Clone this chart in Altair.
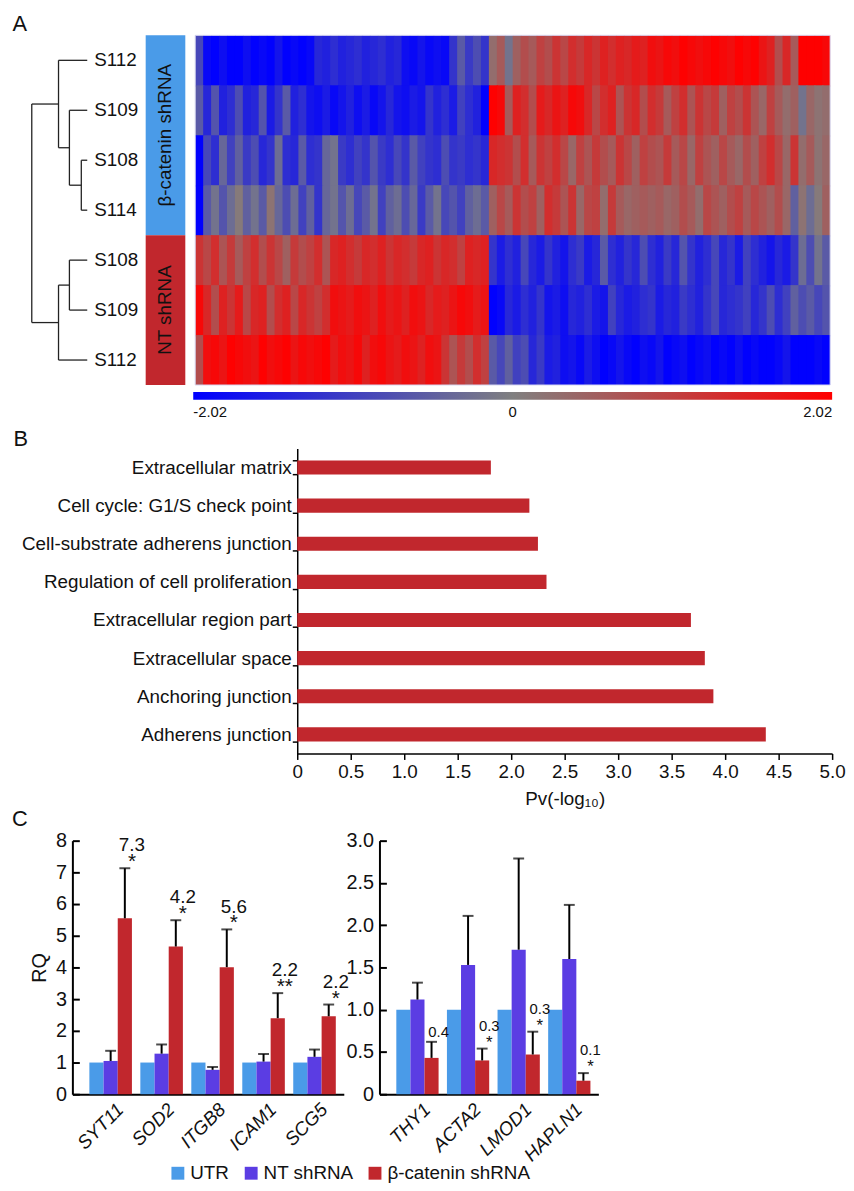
import altair as alt
import pandas as pd

W, H = 846, 1175
FONT = "Liberation Sans"
INK = "#111111"

# ---------------- Panel A : clustered heatmap ----------------
sample_labels = ["S112", "S109", "S108", "S114", "S108", "S109", "S112"]
bcat_S112 = [-0.9,-1.9,-2.0,-1.8,-2.0,-2.0,-1.8,-2.0,-1.9,-2.0,-1.7,-2.0,-1.9,-2.0,-1.9,-1.4,-1.5,-1.3,-1.5,-1.4,-1.3,-1.5,-1.4,-1.3,-1.5,-1.4,-1.8,-1.9,-1.7,-1.9,-1.8,-1.9,-1.2,-0.6,-1.1,-0.8,-1.2,
             0.3,0.6,-0.2,0.5,0.8,0.6,1.0,0.8,1.2,0.9,1.3,1.1,1.4,1.2,1.5,1.3,1.5,1.4,1.6,1.5,1.8,1.7,1.9,1.8,2.0,1.9,1.8,1.9,2.0,1.9,1.8,2.0,1.9,2.0,1.7,1.5,0.8,1.4,0.6,2.0,2.0,2.0,1.9]
bcat_S109 = [-0.6,-1.4,-0.7,-1.5,-1.3,-0.8,-1.5,-1.4,-0.7,-1.6,-1.2,-0.6,-1.5,-1.3,-1.7,-1.8,-1.6,-1.9,-1.7,-1.5,-1.8,-1.6,-1.9,-1.7,-1.4,-1.7,-1.8,-1.6,-1.7,-1.2,-1.5,-1.3,-1.6,-1.0,-1.3,-1.5,-2.0,
             2.0,1.9,0.6,1.5,1.3,0.8,1.6,1.4,1.7,1.5,1.9,1.8,1.4,0.9,1.3,1.5,0.7,1.2,1.4,0.8,1.3,1.1,0.6,1.0,1.3,0.7,1.2,0.9,1.1,0.5,1.0,0.8,1.2,0.7,0.4,1.0,0.6,0.3,0.5,-0.2,0.4,0.2,0.3]
bcat_S108 = [-2.0,-0.9,-1.3,-0.4,-1.0,-0.5,-1.1,-0.8,-1.4,-1.2,-0.3,-1.3,-1.4,-0.6,-1.3,-1.2,-0.4,-0.2,-1.1,-1.3,-1.0,-1.2,-0.7,-1.1,-1.3,-0.9,-1.2,-0.6,-1.0,-1.2,-1.3,-0.8,-1.2,-1.1,-1.3,-1.2,-1.4,
             1.4,1.3,1.2,0.8,1.3,0.6,1.2,1.0,1.3,0.9,0.4,1.0,0.7,1.1,0.8,0.6,1.2,0.9,0.5,1.0,0.8,0.7,1.1,0.6,0.9,0.4,1.0,0.7,0.5,0.9,0.6,0.4,0.8,0.5,1.0,1.3,0.9,0.4,1.2,0.3,0.6,0.2,0.4]
bcat_S114 = [-2.0,-0.6,-0.2,-0.7,-0.3,0.1,-0.5,-0.2,-0.6,0.2,-0.4,-0.8,-0.3,-1.0,-0.5,-1.2,-0.4,-0.2,-0.7,-0.3,-0.9,-0.6,-0.2,-1.0,-0.5,-0.3,-0.8,-0.4,-1.1,-0.6,-0.2,-0.9,-0.7,-1.0,-0.5,-0.3,-0.6,
             0.5,0.9,0.6,1.2,0.8,1.0,0.5,1.3,1.1,0.7,1.2,0.4,0.9,1.0,0.3,1.1,0.6,0.4,0.5,0.6,0.5,0.6,0.4,0.5,0.8,0.6,0.3,0.9,0.7,0.5,0.8,1.0,0.6,0.9,0.7,0.5,0.8,0.4,-0.5,0.2,-0.3,0.1,0.5]
nt_S108 = [1.2,0.9,1.3,0.7,1.1,0.6,1.0,1.3,0.8,1.2,0.9,0.5,1.1,0.8,1.0,1.3,0.7,1.4,1.5,1.3,1.1,1.4,1.3,1.5,1.2,1.4,1.3,1.1,1.4,1.5,1.2,1.4,1.3,1.0,1.5,1.4,1.5,
           -1.2,-1.6,-1.3,-1.5,-0.9,-1.4,-1.6,-1.2,-1.5,-1.7,-1.3,-1.1,-1.6,-1.4,-0.6,-1.3,-1.5,-1.2,-1.4,-0.8,-1.3,-1.5,-1.1,-1.4,-0.7,-1.2,-1.5,-1.3,-0.9,-1.4,-1.2,-1.6,-1.0,-1.3,-1.5,-1.7,-1.4,-1.6,-1.2,-0.3,-0.8,-0.2,-0.6]
nt_S109 = [1.9,1.4,0.8,1.5,1.2,1.6,0.9,1.4,1.5,0.8,1.3,1.5,0.9,1.4,1.2,1.0,1.3,1.8,1.7,1.6,1.8,1.7,1.5,1.8,1.6,1.7,1.5,1.8,1.7,1.4,1.6,1.5,1.7,1.9,1.8,1.6,1.7,
           -2.0,-1.9,-1.4,-1.6,-1.3,-1.5,-1.2,-1.7,-1.6,-1.8,-1.4,-1.5,-1.3,-1.6,-1.7,-1.0,-1.4,-1.6,-1.5,-1.3,-1.2,-1.6,-1.4,-1.5,-1.1,-1.3,-1.5,-1.2,-0.9,-1.4,-1.3,-1.2,-1.0,-1.4,-1.2,-0.8,-1.3,-1.0,-0.5,-0.8,-0.6,-0.9,-0.7]
nt_S112 = [0.8,1.8,1.9,1.7,2.0,1.9,1.8,1.7,2.0,1.8,1.9,2.0,1.7,1.9,1.8,1.9,2.0,1.6,1.8,1.7,1.9,1.5,1.8,1.9,1.7,1.6,1.8,1.7,1.5,1.8,1.7,1.2,0.7,1.1,0.8,1.3,1.0,
           -0.6,-0.9,-0.5,-1.0,-0.8,-1.4,-1.1,-1.6,-1.5,-1.8,-1.7,-1.9,-1.6,-1.8,-2.0,-1.9,-1.7,-1.9,-2.0,-1.8,-1.9,-1.7,-2.0,-1.9,-1.8,-2.0,-1.9,-1.8,-2.0,-1.9,-2.0,-1.8,-2.0,-1.9,-2.0,-2.0,-1.9,-1.7,-2.0,-2.0,-2.0,-1.9,-2.0]
heat_rows = [bcat_S112, bcat_S109, bcat_S108, bcat_S114, nt_S108, nt_S109, nt_S112]
heat_limit = 2.02
heat_ticks = [-2.02, 0, 2.02]

group_names = ["β-catenin shRNA", "NT shRNA"]
group_sizes = [4, 3]
group_colors = ["#4a9be8", "#c1272d"]

# dendrogram merges (node a, node b, merge height); leaves are rows 0..6, merge k creates node 7+k
dendro_merges = [(2, 3, 6), (1, 7, 18), (0, 8, 29), (4, 5, 18), (10, 6, 29), (9, 11, 56)]

# ---------------- Panel B : GO enrichment ----------------
go_terms = ["Extracellular matrix", "Cell cycle: G1/S check point", "Cell-substrate adherens junction",
            "Regulation of cell proliferation", "Extracellular region part", "Extracellular space",
            "Anchoring junction", "Adherens junction"]
go_pv = [1.81, 2.17, 2.25, 2.33, 3.68, 3.81, 3.89, 4.38]
pv_ticks = [0, 0.5, 1.0, 1.5, 2.0, 2.5, 3.0, 3.5, 4.0, 4.5, 5.0]

# ---------------- Panel C : qPCR ----------------
groups = ["UTR", "NT shRNA", "β-catenin shRNA"]
group_bar_colors = ["#4a9be8", "#5b3de3", "#c1272d"]
genes_up = ["SYT11", "SOD2", "ITGB8", "ICAM1", "SCG5"]
up_utr = [1, 1, 1, 1, 1]
up_nt = [1.05, 1.28, 0.77, 1.03, 1.18]
up_nt_err = [1.37, 1.57, 0.86, 1.27, 1.41]
up_bc = [5.55, 4.66, 4.01, 2.40, 2.46]
up_bc_err = [7.13, 5.49, 5.20, 3.19, 2.83]
up_fold = ["7.3", "4.2", "5.6", "2.2", "2.2"]
up_sig = ["*", "*", "*", "**", "*"]
up_ticks = [0, 1, 2, 3, 4, 5, 6, 7, 8]

genes_dn = ["THY1", "ACTA2", "LMOD1", "HAPLN1"]
dn_utr = [1, 1, 1, 1]
dn_nt = [1.12, 1.53, 1.71, 1.60]
dn_nt_err = [1.32, 2.11, 2.79, 2.24]
dn_bc = [0.43, 0.40, 0.47, 0.16]
dn_bc_err = [0.62, 0.54, 0.74, 0.25]
dn_fold = ["0.4", "0.3", "0.3", "0.1"]
dn_sig = ["", "*", "*", "*"]
dn_ticks = [0, 0.5, 1.0, 1.5, 2.0, 2.5, 3.0]

# ================= build tables =================
nrow = len(heat_rows)
ncol = max(len(r) for r in heat_rows)
heat_recs = []
for i, row in enumerate(heat_rows):
    for j, v in enumerate(row):
        heat_recs.append({"r0": i, "r1": min(i + 1.03, nrow), "c0": j, "c1": min(j + 1.15, ncol), "v": v})
heat_df = pd.DataFrame(heat_recs)
border_df = pd.DataFrame([{"c0": 0, "c1": ncol, "r0": 0, "r1": nrow}])

node_y = {i: i + 0.5 for i in range(nrow)}
node_h = {i: 0 for i in range(nrow)}
segs = []
for k, (a, b, h) in enumerate(dendro_merges):
    n = nrow + k
    node_y[n] = (node_y[a] + node_y[b]) / 2
    node_h[n] = h
    segs.append({"h0": h, "h1": h, "y0": node_y[a], "y1": node_y[b]})
    for c in (a, b):
        segs.append({"h0": node_h[c], "h1": h, "y0": node_y[c], "y1": node_y[c]})
seg_df = pd.DataFrame(segs)
max_h = max(m[2] for m in dendro_merges)
leaf_df = pd.DataFrame({"label": sample_labels, "y": [i + 0.5 for i in range(nrow)], "h": [0] * nrow})

g_recs, start = [], 0
for name, size in zip(group_names, group_sizes):
    g_recs.append({"group": name, "g0": start, "g1": start + size, "gm": start + size / 2,
                   "x0": 0, "x1": 1, "xm": 0.5})
    start += size
grp_df = pd.DataFrame(g_recs)

go_df = pd.DataFrame({"term": go_terms, "pv": go_pv})


def qpcr_table(genes, utr, nt, nt_err, bc, bc_err, fold, sig):
    recs = []
    for i, g in enumerate(genes):
        recs.append({"gene": g, "group": groups[0], "value": utr[i], "err": None, "fold": "", "sig": ""})
        recs.append({"gene": g, "group": groups[1], "value": nt[i], "err": nt_err[i], "fold": "", "sig": ""})
        recs.append({"gene": g, "group": groups[2], "value": bc[i], "err": bc_err[i], "fold": fold[i], "sig": sig[i]})
    return pd.DataFrame(recs)


up_df = qpcr_table(genes_up, up_utr, up_nt, up_nt_err, up_bc, up_bc_err, up_fold, up_sig)
dn_df = qpcr_table(genes_dn, dn_utr, dn_nt, dn_nt_err, dn_bc, dn_bc_err, dn_fold, dn_sig)

# ================= scales =================
rows_y = alt.Scale(domain=[0, nrow], range=[22, 375], nice=False, zero=False)
heat_x = alt.Scale(domain=[0, ncol], range=[189, 830], nice=False, zero=False)
dendro_x = alt.Scale(domain=[0, max_h], range=[80, 24], nice=False, zero=False)
grp_x = alt.Scale(domain=[0, 1], range=[139, 179], nice=False, zero=False)
heat_color = alt.Scale(domain=[-heat_limit, 0, heat_limit], range=["#0000ff", "#808080", "#ff0000"], interpolate="rgb")

# ================= Panel A layers =================
heat = alt.Chart(heat_df).mark_rect(strokeWidth=0).encode(
    x=alt.X("c0:Q", scale=heat_x, axis=None), x2="c1:Q",
    y=alt.Y("r0:Q", scale=rows_y, axis=None), y2="r1:Q",
    color=alt.Color("v:Q", scale=heat_color, legend=alt.Legend(
        orient="none", legendX=187, legendY=382, direction="horizontal", title=None,
        gradientLength=645, gradientThickness=8, gradientStrokeWidth=0, values=heat_ticks,
        labelExpr="datum.value == 0 ? '0' : (datum.value < 0 ? '-' : '') + format(abs(datum.value), '.2f')",
        labelFontSize=15, labelColor=INK, labelOffset=5, padding=0)),
)
border = alt.Chart(border_df).mark_rect(fillOpacity=0, stroke="#d6d6ef", strokeWidth=1).encode(
    x=alt.X("c0:Q", scale=heat_x, axis=None), x2="c1:Q",
    y=alt.Y("r0:Q", scale=rows_y, axis=None), y2="r1:Q",
)
dendro = alt.Chart(seg_df).mark_rule(color="#222222", strokeWidth=1.3).encode(
    x=alt.X("h0:Q", scale=dendro_x, axis=None), x2="h1:Q",
    y=alt.Y("y0:Q", scale=rows_y, axis=None), y2="y1:Q",
)
leaves = alt.Chart(leaf_df).mark_text(align="left", baseline="middle", dx=7, fontSize=19, font=FONT, color=INK).encode(
    x=alt.X("h:Q", scale=dendro_x, axis=None),
    y=alt.Y("y:Q", scale=rows_y, axis=None),
    text="label:N",
)
grp_bar = alt.Chart(grp_df).mark_rect().encode(
    x=alt.X("x0:Q", scale=grp_x, axis=None), x2="x1:Q",
    y=alt.Y("g0:Q", scale=rows_y, axis=None), y2="g1:Q",
    color=alt.Color("group:N", scale=alt.Scale(domain=group_names, range=group_colors), legend=None),
)
grp_txt = alt.Chart(grp_df).mark_text(angle=270, fontSize=19, font=FONT, color=INK, baseline="middle", align="center").encode(
    x=alt.X("xm:Q", scale=grp_x, axis=None),
    y=alt.Y("gm:Q", scale=rows_y, axis=None),
    text="group:N",
)

# ================= Panel B layers =================
go_y = alt.Scale(domain=go_terms, range=[439, 747], paddingInner=0.63, paddingOuter=0.315)
go_x = alt.Scale(domain=[0, 5], range=[292, 832], nice=False, zero=True)
go_bars = alt.Chart(go_df).mark_bar(color="#c1272d").encode(
    y=alt.Y("term:N", scale=go_y, sort=go_terms, title=None, axis=alt.Axis(
        orient="left", offset=-292, tickBand="extent", tickSize=5, tickWidth=1.5, tickColor="black",
        domainColor="black", domainWidth=1.5, labelFontSize=19, labelColor=INK, labelPadding=1,
        labelLimit=400, labelOverlap=False, grid=False)),
    x=alt.X("pv:Q", scale=go_x, axis=alt.Axis(
        orient="bottom", offset=747 - H, values=pv_ticks,
        labelExpr="datum.value == 0 ? '0' : format(datum.value, '.1f')",
        tickSize=6, tickWidth=1.5, tickColor="black", domainColor="black", domainWidth=1.5,
        labelFontSize=19, labelColor=INK, labelPadding=3, labelOverlap=False, labelFlush=False,
        title="Pv(-log₁₀)", titleFontSize=19, titleFontWeight="normal", titleColor=INK, titlePadding=8,
        grid=False)),
)

# ================= Panel C layers =================
off_sc = alt.Scale(domain=groups, paddingInner=0, paddingOuter=0)
bar_color = alt.Scale(domain=groups, range=group_bar_colors)


def qpcr_layers(df, genes, ymax, yrange_top, xrange, y_ticks, label_expr, y_off, num_size, title, legend):
    gx = alt.Scale(domain=genes, range=xrange, paddingInner=0.165, paddingOuter=0.245, align=0.68)
    gy = alt.Scale(domain=[0, ymax], range=[1091, yrange_top], nice=False, zero=True)
    xa = alt.Axis(orient="bottom", offset=1091 - H, title=None, ticks=False, domainColor="black", domainWidth=2,
                  labelAngle=-45, labelAlign="right", labelBaseline="middle", labelFontSize=19,
                  labelFontStyle="italic", labelColor=INK, labelPadding=12, labelOffset=10, labelOverlap=False,
                  grid=False)
    ya = alt.Axis(orient="left", offset=-y_off, values=y_ticks, labelExpr=label_expr, ticks=False,
                  domainColor="black", domainWidth=2, labelFontSize=20, labelColor=INK, labelPadding=6,
                  labelOverlap=False, grid=False, title=title, titleFontSize=20, titleFontWeight="normal",
                  titleColor=INK, titlePadding=6)
    ytick_axis = alt.Axis(orient="left", offset=-(y_off + 7), values=y_ticks, labels=False, domain=False,
                          ticks=True, tickSize=7, tickWidth=2, tickColor="black", title=None, grid=False)
    leg = None
    if legend:
        leg = alt.Legend(orient="none", legendX=162, legendY=1161, direction="horizontal", columns=3,
                         title=None, symbolType="square", symbolSize=169, symbolStrokeWidth=0,
                         labelFontSize=19, labelColor=INK, labelOffset=3, columnPadding=12,
                         labelLimit=300, padding=0)
    bars = alt.Chart(df).mark_bar().encode(
        x=alt.X("gene:N", scale=gx, sort=genes, axis=xa),
        xOffset=alt.XOffset("group:N", scale=off_sc, sort=groups),
        y=alt.Y("value:Q", scale=gy, axis=ya),
        color=alt.Color("group:N", scale=bar_color, sort=groups, legend=leg),
    )
    ticks_only = alt.Chart(df).mark_point(opacity=0).encode(
        x=alt.value(0),
        y=alt.Y("value:Q", scale=gy, axis=ytick_axis),
    )
    base = alt.Chart(df).transform_filter("isValid(datum.err)")
    enc_x = dict(x=alt.X("gene:N", scale=gx, sort=genes, axis=None),
                 xOffset=alt.XOffset("group:N", scale=off_sc, sort=groups))
    err = base.mark_rule(color="black", strokeWidth=2).encode(
        y=alt.Y("value:Q", scale=gy, axis=None), y2="err:Q", **enc_x)
    cap = base.mark_tick(color="black", size=11, thickness=2).encode(
        y=alt.Y("err:Q", scale=gy, axis=None), **enc_x)
    sig = base.transform_filter("datum.sig != ''").mark_text(
        fontSize=num_size + 2, font=FONT, color=INK, baseline="middle", align="center", dy=-6).encode(
        y=alt.Y("err:Q", scale=gy, axis=None), text="sig:N", **enc_x)
    num_hi = base.transform_filter("datum.fold != '' && datum.sig != ''").mark_text(
        fontSize=num_size, font=FONT, color=INK, baseline="middle", align="center", dy=-23).encode(
        y=alt.Y("err:Q", scale=gy, axis=None), text="fold:N", **enc_x)
    num_lo = base.transform_filter("datum.fold != '' && datum.sig == ''").mark_text(
        fontSize=num_size, font=FONT, color=INK, baseline="middle", align="center", dy=-10).encode(
        y=alt.Y("err:Q", scale=gy, axis=None), text="fold:N", **enc_x)
    return [bars, ticks_only, err, cap, sig, num_hi, num_lo]


up_layers = qpcr_layers(up_df, genes_up, 8, 835, [65, 339], up_ticks, "format(datum.value, 'd')", 65, 19, "RQ", True)
dn_layers = qpcr_layers(dn_df, genes_dn, 3, 835, [375, 596], dn_ticks,
                        "datum.value == 0 ? '0' : format(datum.value, '.1f')", 375, 15, None, False)

# ================= panel letters =================
one = pd.DataFrame({"k": [0]})


def letter(t, x, y):
    return alt.Chart(one).mark_text(text=t, fontSize=22, font=FONT, color=INK, baseline="middle", align="center").encode(
        x=alt.value(x), y=alt.value(y))


layers = [heat, border, dendro, leaves, grp_bar, grp_txt, go_bars] + up_layers + dn_layers + [
    letter("A", 12, 11), letter("B", 13, 430), letter("C", 12, 813)]

chart = alt.layer(*layers).resolve_scale(
    x="independent", y="independent", color="independent", xOffset="independent"
).properties(
    width=W, height=H, autosize=alt.AutoSizeParams(type="none"), padding=0
).configure(font=FONT).configure_view(stroke=None)

chart.save("out.html", embed_options={"renderer": "svg", "actions": False})
